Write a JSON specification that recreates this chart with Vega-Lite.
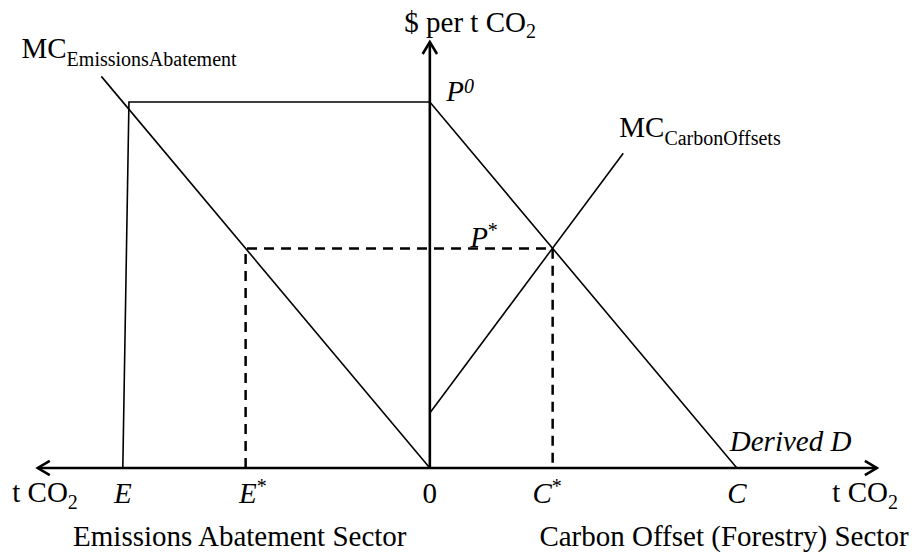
{
  "$schema": "https://vega.github.io/schema/vega-lite/v6.json",
  "width": 922,
  "height": 555,
  "autosize": {"type": "fit", "contains": "padding"},
  "padding": 0,
  "background": "white",
  "config": {"view": {"stroke": null}},
  "datasets": {
    "lines": [
      {"id": "mcea", "o": 1, "x": -10.7, "y": 10.7},
      {"id": "mcea", "o": 2, "x": 0, "y": 0},
      {"id": "derived", "o": 1, "x": -10, "y": 0},
      {"id": "derived", "o": 2, "x": -9.8, "y": 10},
      {"id": "derived", "o": 3, "x": 0, "y": 10},
      {"id": "derived", "o": 4, "x": 10, "y": 0},
      {"id": "mcco", "o": 1, "x": 0, "y": 1.5},
      {"id": "mcco", "o": 2, "x": 6.3, "y": 8.6}
    ],
    "axes": [
      {"id": "h", "o": 1, "x": -12.77, "y": 0},
      {"id": "h", "o": 2, "x": 14.56, "y": 0},
      {"id": "v", "o": 1, "x": 0, "y": 0},
      {"id": "v", "o": 2, "x": 0, "y": 11.64}
    ],
    "dashed": [
      {"o": 1, "x": -6, "y": 0},
      {"o": 2, "x": -6, "y": 6},
      {"o": 3, "x": 4, "y": 6},
      {"o": 4, "x": 4, "y": 0}
    ],
    "arrows": [
      {"x": -12.77, "y": 0, "a": 180},
      {"x": 14.56, "y": 0, "a": 0},
      {"x": 0, "y": 11.64, "a": 270}
    ],
    "labels": [
      {"k": "c", "t": "0", "x": 0, "y": -0.956},
      {"k": "c", "t": "Emissions Abatement Sector", "x": -6.19, "y": -2.13},
      {"k": "c", "t": "Carbon Offset (Forestry) Sector", "x": 9.58, "y": -2.13},
      {"k": "r", "t": "MC", "x": -11.83, "y": 11.2},
      {"k": "r", "t": "MC", "x": 7.64, "y": 9.04},
      {"k": "r", "t": "$ per t CO", "x": 3.13, "y": 11.91},
      {"k": "r", "t": "t CO", "x": -11.79, "y": -0.93},
      {"k": "r", "t": "t CO", "x": 14.92, "y": -0.93},
      {"k": "s", "t": "EmissionsAbatement", "x": -11.83, "y": 10.98},
      {"k": "s", "t": "CarbonOffsets", "x": 7.64, "y": 8.83},
      {"k": "s", "t": "2", "x": 3.13, "y": 11.75},
      {"k": "s", "t": "2", "x": -11.79, "y": -1.12},
      {"k": "s", "t": "2", "x": 14.92, "y": -1.12},
      {"k": "ic", "t": "E", "x": -10, "y": -0.956},
      {"k": "ic", "t": "C", "x": 10, "y": -0.956},
      {"k": "ir", "t": "E", "x": -5.64, "y": -0.956},
      {"k": "ir", "t": "C", "x": 3.97, "y": -0.956},
      {"k": "ir", "t": "P", "x": 1.11, "y": 10.03},
      {"k": "ir", "t": "P", "x": 1.89, "y": 6.04},
      {"k": "st", "t": "*", "x": -5.64, "y": -0.69},
      {"k": "st", "t": "*", "x": 3.97, "y": -0.69},
      {"k": "st", "t": "*", "x": 1.89, "y": 6.31},
      {"k": "si", "t": "0", "x": 1.11, "y": 10.25},
      {"k": "il", "t": "Derived D", "x": 9.77, "y": 0.46}
    ]
  },
  "encoding": {
    "x": {"field": "x", "type": "quantitative", "scale": {"domain": [-14, 16.03], "nice": false, "zero": false}, "axis": null},
    "y": {"field": "y", "type": "quantitative", "scale": {"domain": [-2.377, 12.787], "nice": false, "zero": false}, "axis": null}
  },
  "layer": [
    {
      "data": {"name": "lines"},
      "mark": {"type": "line", "color": "black", "strokeWidth": 1.6},
      "encoding": {"detail": {"field": "id"}, "order": {"field": "o", "type": "quantitative"}}
    },
    {
      "data": {"name": "dashed"},
      "mark": {"type": "line", "color": "black", "strokeWidth": 2.5, "strokeDash": [10, 7]},
      "encoding": {"order": {"field": "o", "type": "quantitative"}}
    },
    {
      "data": {"name": "axes"},
      "mark": {"type": "line", "color": "black", "strokeWidth": 2.6},
      "encoding": {"detail": {"field": "id"}, "order": {"field": "o", "type": "quantitative"}}
    },
    {
      "data": {"name": "arrows"},
      "mark": {"type": "point", "shape": "M -1 -0.6 L 0 0 L -1 0.6", "filled": false, "stroke": "black", "strokeWidth": 2.6, "size": 576, "opacity": 1},
      "encoding": {"angle": {"field": "a", "type": "quantitative", "scale": null}}
    },
    {
      "data": {"name": "labels"},
      "transform": [{"filter": "datum.k === 'c'"}],
      "mark": {"type": "text", "font": "Liberation Serif", "fontSize": 29, "align": "center", "baseline": "alphabetic", "color": "black"},
      "encoding": {"text": {"field": "t"}}
    },
    {
      "data": {"name": "labels"},
      "transform": [{"filter": "datum.k === 'r'"}],
      "mark": {"type": "text", "font": "Liberation Serif", "fontSize": 29, "align": "right", "baseline": "alphabetic", "color": "black"},
      "encoding": {"text": {"field": "t"}}
    },
    {
      "data": {"name": "labels"},
      "transform": [{"filter": "datum.k === 's'"}],
      "mark": {"type": "text", "font": "Liberation Serif", "fontSize": 20, "align": "left", "baseline": "alphabetic", "color": "black"},
      "encoding": {"text": {"field": "t"}}
    },
    {
      "data": {"name": "labels"},
      "transform": [{"filter": "datum.k === 'ic'"}],
      "mark": {"type": "text", "font": "Liberation Serif", "fontStyle": "italic", "fontSize": 29, "align": "center", "baseline": "alphabetic", "color": "black"},
      "encoding": {"text": {"field": "t"}}
    },
    {
      "data": {"name": "labels"},
      "transform": [{"filter": "datum.k === 'ir'"}],
      "mark": {"type": "text", "font": "Liberation Serif", "fontStyle": "italic", "fontSize": 29, "align": "right", "baseline": "alphabetic", "color": "black"},
      "encoding": {"text": {"field": "t"}}
    },
    {
      "data": {"name": "labels"},
      "transform": [{"filter": "datum.k === 'il'"}],
      "mark": {"type": "text", "font": "Liberation Serif", "fontStyle": "italic", "fontSize": 29, "align": "left", "baseline": "alphabetic", "color": "black"},
      "encoding": {"text": {"field": "t"}}
    },
    {
      "data": {"name": "labels"},
      "transform": [{"filter": "datum.k === 'st'"}],
      "mark": {"type": "text", "font": "Liberation Serif", "fontSize": 20, "align": "left", "baseline": "alphabetic", "color": "black"},
      "encoding": {"text": {"field": "t"}}
    },
    {
      "data": {"name": "labels"},
      "transform": [{"filter": "datum.k === 'si'"}],
      "mark": {"type": "text", "font": "Liberation Serif", "fontStyle": "italic", "fontSize": 20, "align": "left", "baseline": "alphabetic", "color": "black"},
      "encoding": {"text": {"field": "t"}}
    }
  ]
}
